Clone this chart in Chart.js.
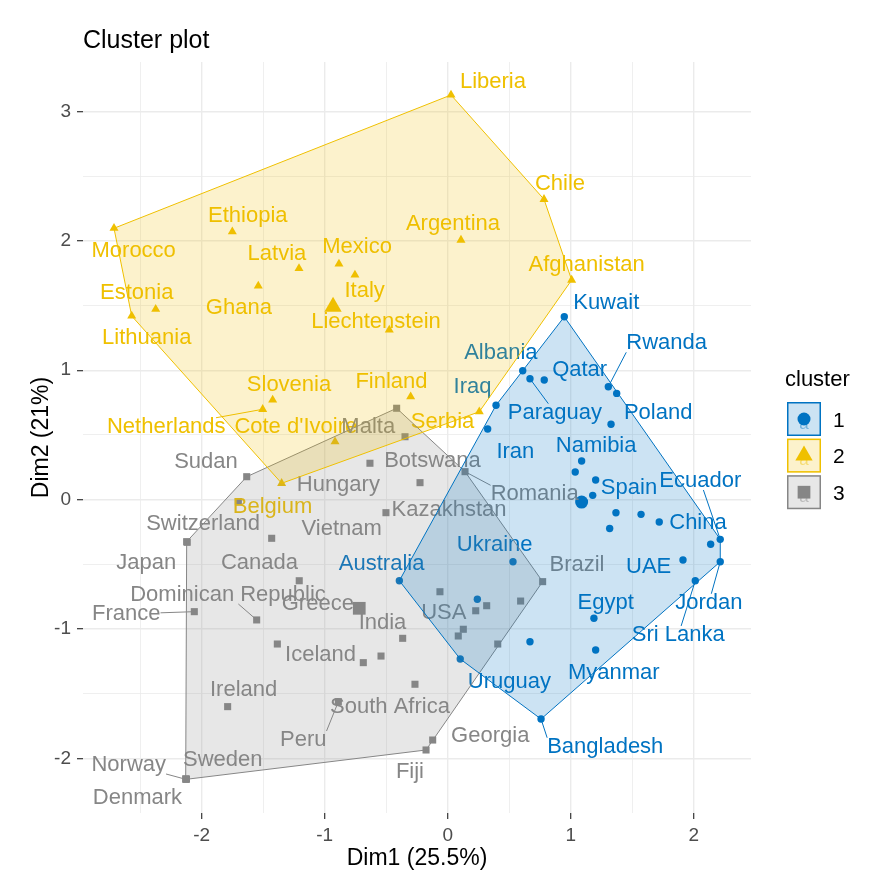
<!DOCTYPE html>
<html><head><meta charset="utf-8">
<script src="https://cdn.jsdelivr.net/npm/chart.js@4.4.1/dist/chart.umd.min.js"></script>
<style>html,body{margin:0;padding:0;background:#fff;}canvas{display:block;}</style>
</head><body>
<canvas id="c" width="888" height="885"></canvas>
<script>
const FONT = '"Liberation Sans", Arial, Helvetica, sans-serif';
const chartTitle = 'Cluster plot';
const xTitle = 'Dim1 (25.5%)';
const yTitle = 'Dim2 (21%)';
const xTicks = [-2, -1, 0, 1, 2];
const yTicks = [-2, -1, 0, 1, 2, 3];
const xLimits = [-2.965, 2.466];
const yLimits = [-2.422, 3.382];
const clusterNames = ['1', '2', '3'];

// [name, Dim1, Dim2]
const c1Points = [
  ['Kuwait',0.948,1.413],['Albania',0.610,0.996],['Paraguay',0.669,0.934],['Qatar',0.785,0.924],
  ['Rwanda',1.306,0.872],['Poland',1.374,0.821],['Iraq',0.393,0.729],['',1.328,0.582],
  ['Iran',0.325,0.546],['Namibia',1.089,0.298],['',1.037,0.213],['',1.203,0.151],
  ['Spain',1.179,0.033],['',1.368,-0.101],['',1.572,-0.114],['China',1.720,-0.173],
  ['',1.317,-0.223],['Ecuador',2.216,-0.307],['',2.138,-0.345],['UAE',1.913,-0.467],
  ['Jordan',2.216,-0.480],['Sri Lanka',2.013,-0.627],['Ukraine',0.531,-0.480],['',0.241,-0.770],
  ['Egypt',1.189,-0.917],['',0.669,-1.098],['Myanmar',1.203,-1.162],['Uruguay',0.102,-1.232],
  ['Australia',-0.393,-0.627],['Bangladesh',0.759,-1.696]
];
const c2Points = [
  ['Liberia',0.027,3.127],['Chile',0.783,2.321],['Argentina',0.108,2.006],['Afghanistan',1.008,1.697],
  ['Morocco',-2.713,2.097],['Ethiopia',-1.751,2.070],['Latvia',-1.209,1.787],['Mexico',-0.884,1.821],
  ['Italy',-0.754,1.736],['Ghana',-1.540,1.651],['Estonia',-2.374,1.471],['Lithuania',-2.569,1.419],
  ['Liechtenstein',-0.475,1.311],['Slovenia',-1.423,0.770],['Netherlands',-1.504,0.698],['Finland',-0.301,0.795],
  ["Cote d'Ivoire",-0.916,0.447],['Serbia',0.257,0.679],['Belgium',-1.350,0.126]
];
const c3Points = [
  ['Malta',-0.415,0.706],['',-0.347,0.486],['Botswana',-0.632,0.281],['Hungary',-0.225,0.131],
  ['Kazakhstan',-0.502,-0.101],['Romania',0.141,0.216],['Sudan',-1.634,0.177],['',-1.702,-0.016],
  ['Vietnam',-1.431,-0.299],['Switzerland',-2.122,-0.325],['Japan',-2.118,-0.330],['Canada',-1.207,-0.627],
  ['France',-2.060,-0.866],['Dominican Republic',-1.553,-0.930],['Iceland',-1.385,-1.116],['Greece',-0.542,-1.209],
  ['',-0.686,-1.260],['India',-0.366,-1.072],['USA',-0.063,-0.712],['',0.127,-1.002],
  ['',0.086,-1.054],['',0.317,-0.820],['',0.228,-0.859],['',0.593,-0.784],
  ['Brazil',0.772,-0.634],['',0.407,-1.116],['South Africa',-0.266,-1.427],['Peru',-0.889,-1.562],
  ['Ireland',-1.789,-1.600],['Georgia',-0.122,-1.858],['Fiji',-0.176,-1.935],['Norway',-2.128,-2.162],
  ['Denmark',-2.130,-2.158],['Sweden',-2.124,-2.160]
];
const clusterCenters = [[1.089,-0.019],[-0.932,1.491],[-0.719,-0.840]];

// repelled label anchor [name, Dim1, Dim2, segment: 0 none, 1 towards label centre, 2 to nearest box point]
const c1Labels = [
  ['Kuwait',1.289,1.517,0],['Rwanda',1.780,1.208,2],['Albania',0.432,1.135,0],['Qatar',1.073,1.002,0],
  ['Iraq',0.202,0.868,0],['Paraguay',0.872,0.672,1],['Poland',1.711,0.672,0],['Namibia',1.207,0.417,0],
  ['Iran',0.550,0.366,0],['Spain',1.474,0.087,0],['Ecuador',2.054,0.144,1],['China',2.035,-0.179,0],
  ['Ukraine',0.382,-0.351,0],['Australia',-0.537,-0.498,0],['UAE',1.634,-0.519,0],['Egypt',1.285,-0.797,0],
  ['Jordan',2.123,-0.797,1],['Sri Lanka',1.875,-1.046,1],['Myanmar',1.350,-1.342,0],['Uruguay',0.502,-1.407,0],
  ['Bangladesh',1.281,-1.910,2]
];
const c2Labels = [
  ['Liberia',0.368,3.230,0],['Chile',0.913,2.439,0],['Argentina',0.043,2.130,0],['Afghanistan',1.130,1.813,0],
  ['Ethiopia',-1.625,2.192,0],['Morocco',-2.553,1.923,0],['Latvia',-1.388,1.898,0],['Mexico',-0.737,1.950,0],
  ['Estonia',-2.528,1.599,0],['Ghana',-1.698,1.478,0],['Italy',-0.675,1.614,0],['Liechtenstein',-0.583,1.372,0],
  ['Lithuania',-2.447,1.247,0],['Slovenia',-1.290,0.886,0],['Finland',-0.457,0.911,0],['Netherlands',-2.288,0.563,1],
  ["Cote d'Ivoire",-1.235,0.563,0],['Serbia',-0.042,0.602,0],['Belgium',-1.424,-0.055,0]
];
const c3Labels = [
  ['Malta',-0.646,0.563,0],['Sudan',-1.965,0.293,0],['Botswana',-0.124,0.298,0],['Hungary',-0.889,0.113,0],
  ['Kazakhstan',0.011,-0.080,0],['Romania',0.707,0.041,2],['Switzerland',-1.989,-0.191,0],['Vietnam',-0.862,-0.230,0],
  ['Japan',-2.451,-0.488,0],['Canada',-1.530,-0.488,0],['Dominican Republic',-1.786,-0.737,1],['France',-2.613,-0.884,1],
  ['Greece',-1.056,-0.807,0],['India',-0.530,-0.951,0],['USA',-0.032,-0.874,0],['Brazil',1.051,-0.505,0],
  ['Iceland',-1.034,-1.201,0],['Ireland',-1.659,-1.471,0],['South Africa',-0.469,-1.605,0],['Peru',-1.174,-1.858,2],
  ['Georgia',0.346,-1.827,0],['Fiji',-0.307,-2.103,0],['Sweden',-1.829,-2.012,0],['Norway',-2.593,-2.051,2],
  ['Denmark',-2.522,-2.308,0]
];

const allPoints = [c1Points, c2Points, c3Points];
const allLabels = [c1Labels, c2Labels, c3Labels];
const colors = ['#0073C2', '#EFC000', '#868686'];
const fills = ['rgba(0,115,194,0.2)', 'rgba(239,192,0,0.2)', 'rgba(134,134,134,0.2)'];
const shapes = ['circle', 'triangle', 'rect'];
const radii = [3.7, 5.2, 5];
const centerRadii = [6.5, 10, 9];

function convexHull(pts) {
  const p = pts.map(d => ({x: d[1], y: d[2]})).sort((a, b) => a.x - b.x || a.y - b.y);
  const cross = (o, a, b) => (a.x - o.x) * (b.y - o.y) - (a.y - o.y) * (b.x - o.x);
  const lower = [];
  for (const q of p) { while (lower.length >= 2 && cross(lower[lower.length-2], lower[lower.length-1], q) <= 0) lower.pop(); lower.push(q); }
  const upper = [];
  for (let i = p.length - 1; i >= 0; i--) { const q = p[i]; while (upper.length >= 2 && cross(upper[upper.length-2], upper[upper.length-1], q) <= 0) upper.pop(); upper.push(q); }
  upper.pop(); lower.pop();
  const h = lower.concat(upper); h.push({x: h[0].x, y: h[0].y});
  return h;
}

function withMinors(majors, lim) {
  const out = [];
  const step = majors[1] - majors[0];
  for (let i = -1; i < majors.length; i++) {
    const base = i < 0 ? majors[0] - step : majors[i];
    if (i >= 0) out.push(base);
    const m = base + step / 2;
    if (m > lim[0] && m < lim[1]) out.push(m);
  }
  return out.filter(v => v >= lim[0] && v <= lim[1]).sort((a, b) => a - b);
}
const isMajor = v => Math.abs(v - Math.round(v)) < 1e-9;

const datasets = [];
allPoints.forEach((pts, i) => {
  datasets.push({
    type: 'scatter', order: 2,
    data: pts.map(p => ({x: p[1], y: p[2]})),
    pointStyle: shapes[i], pointRadius: radii[i], pointBackgroundColor: colors[i],
    pointBorderColor: colors[i], pointBorderWidth: 0, showLine: false
  });
});
clusterCenters.forEach((c, i) => {
  datasets.push({
    type: 'scatter', order: 2,
    data: [{x: c[0], y: c[1]}],
    pointStyle: shapes[i], pointRadius: centerRadii[i], pointBackgroundColor: colors[i],
    pointBorderColor: colors[i], pointBorderWidth: 0, showLine: false
  });
});
allPoints.forEach((pts, i) => {
  datasets.push({
    type: 'line', order: 1,
    data: convexHull(pts),
    borderColor: colors[i], borderWidth: 1, backgroundColor: fills[i],
    fill: 'shape', pointRadius: 0, tension: 0
  });
});

function segmentEnd(mode, px, py, lx, ly, w, h) {
  if (mode === 2) {
    return [Math.min(Math.max(px, lx - w), lx + w), Math.min(Math.max(py, ly - h), ly + h)];
  }
  const dx = lx - px, dy = ly - py;
  let t = 1;
  if (Math.abs(dx) > 1e-6) t = Math.min(t, (Math.abs(dx) - w) / Math.abs(dx));
  if (Math.abs(dy) > 1e-6) t = Math.max(Math.min(1, (Math.abs(dy) - h) / Math.abs(dy)), Math.abs(dx) > 1e-6 ? (Math.abs(dx) - w) / Math.abs(dx) : 0);
  t = Math.max(0, Math.min(1, t));
  return [px + dx * t, py + dy * t];
}

function drawLabels(chart) {
  const ctx = chart.ctx, xs = chart.scales.x, ys = chart.scales.y;
  ctx.save();
  ctx.font = '22px ' + FONT;
  ctx.textAlign = 'center';
  ctx.textBaseline = 'middle';
  allLabels.forEach((labs, ci) => {
    labs.forEach(l => {
      const lx = xs.getPixelForValue(l[1]), ly = ys.getPixelForValue(l[2]);
      if (l[3]) {
        const p = allPoints[ci].find(q => q[0] === l[0]);
        const px = xs.getPixelForValue(p[1]), py = ys.getPixelForValue(p[2]);
        const w = ctx.measureText(l[0]).width / 2, h = 9;
        const e = segmentEnd(l[3], px, py, lx, ly, w, h);
        ctx.strokeStyle = colors[ci]; ctx.lineWidth = 1;
        ctx.beginPath(); ctx.moveTo(px, py); ctx.lineTo(e[0], e[1]); ctx.stroke();
      }
      ctx.fillStyle = colors[ci];
      ctx.fillText(l[0], lx, ly);
    });
  });
  ctx.restore();
}

function drawShape(ctx, shape, x, y, r) {
  ctx.beginPath();
  if (shape === 'circle') ctx.arc(x, y, r, 0, Math.PI * 2);
  else if (shape === 'triangle') {
    let a = 0;
    ctx.moveTo(x + Math.sin(a) * r, y - Math.cos(a) * r); a += 2 * Math.PI / 3;
    ctx.lineTo(x + Math.sin(a) * r, y - Math.cos(a) * r); a += 2 * Math.PI / 3;
    ctx.lineTo(x + Math.sin(a) * r, y - Math.cos(a) * r); ctx.closePath();
  } else { const s = r * Math.SQRT1_2; ctx.rect(x - s, y - s, 2 * s, 2 * s); }
  ctx.fill();
}

const overlay = {
  id: 'overlay',
  afterDatasetDraw(chart, args) { if (args.index === 0) drawLabels(chart); },
  afterDraw(chart) {
    const ctx = chart.ctx, ca = chart.chartArea;
    ctx.save();
    ctx.fillStyle = '#000';
    ctx.font = '25px ' + FONT;
    ctx.textAlign = 'left'; ctx.textBaseline = 'alphabetic';
    ctx.fillText(chartTitle, ca.left, 48);
    // legend
    const lx = ca.right + 36, top = 402, step = 36.6, box = 34;
    ctx.font = '22px ' + FONT; ctx.textBaseline = 'middle';
    ctx.fillText('cluster', lx - 2, 380);
    clusterNames.forEach((n, i) => {
      const y0 = top + i * step;
      ctx.fillStyle = '#fff'; ctx.fillRect(lx, y0, box, box);
      ctx.fillStyle = fills[i]; ctx.fillRect(lx, y0, box, box);
      ctx.strokeStyle = colors[i]; ctx.lineWidth = 1.5; ctx.strokeRect(lx + 0.75, y0 + 0.75, box - 1.5, box - 1.5);
      const cx = lx + box / 2, cy = y0 + box / 2;
      ctx.globalAlpha = 0.45; ctx.fillStyle = colors[i]; ctx.font = '17px ' + FONT; ctx.textAlign = 'center';
      ctx.fillText('a', cx, cy + 5);
      ctx.globalAlpha = 1;
      drawShape(ctx, shapes[i], cx, cy, centerRadii[i]);
      ctx.fillStyle = '#000'; ctx.font = '21px ' + FONT; ctx.textAlign = 'left';
      ctx.fillText(n, lx + 46, cy + 2);
    });
    ctx.restore();
  }
};

Chart.defaults.font.family = FONT;
const axisCommon = (majors, lim) => ({
  type: 'linear', min: lim[0], max: lim[1],
  afterBuildTicks: s => { s.ticks = withMinors(majors, lim).map(v => ({value: v})); },
  border: {display: false},
  grid: {
    color: '#EBEBEB',
    lineWidth: c => (c.tick && isMajor(c.tick.value)) ? 1.4 : 0.8,
    tickColor: c => (c.tick && isMajor(c.tick.value)) ? '#333333' : 'rgba(0,0,0,0)',
    tickLength: 6, tickWidth: 1.2, drawTicks: true
  },
  ticks: {
    autoSkip: false, maxRotation: 0, color: '#4D4D4D', font: {size: 19},
    callback: v => isMajor(v) ? String(Math.round(v)) : ''
  }
});
const xAxis = axisCommon(xTicks, xLimits);
xAxis.ticks.padding = 5;
xAxis.afterFit = s => { s.height = 72; };
xAxis.title = {display: true, text: xTitle, color: '#000', font: {size: 23}, padding: {top: 0, bottom: 13}};
const yAxis = axisCommon(yTicks, yLimits);
yAxis.ticks.padding = 6;
yAxis.afterFit = s => { s.width = 83; };
yAxis.title = {display: true, text: yTitle, color: '#000', font: {size: 23}, padding: {top: 28, bottom: 0}};

new Chart(document.getElementById('c'), {
  type: 'scatter',
  data: {datasets},
  options: {
    responsive: false, animation: false, devicePixelRatio: 1, events: [],
    layout: {padding: {left: 0, right: 137, top: 62, bottom: 0}},
    plugins: {legend: {display: false}, tooltip: {enabled: false}, title: {display: false}},
    scales: {x: xAxis, y: yAxis}
  },
  plugins: [overlay]
});
</script>
</body></html>
